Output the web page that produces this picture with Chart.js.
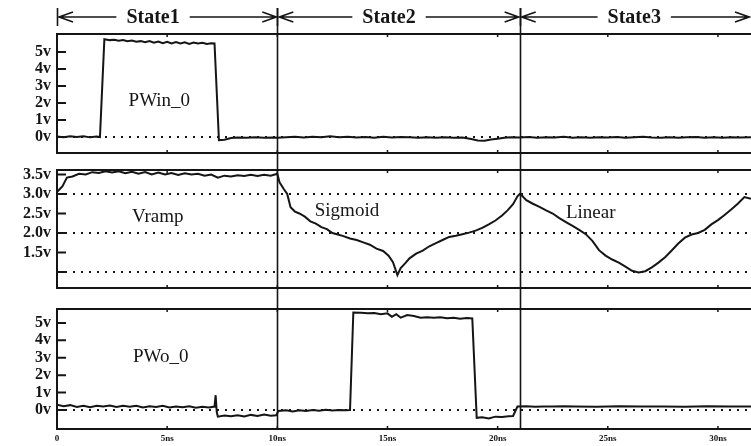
<!DOCTYPE html>
<html><head><meta charset="utf-8">
<script src="https://cdn.jsdelivr.net/npm/chart.js@4.4.1/dist/chart.umd.min.js"></script>
<style>
html,body{margin:0;padding:0;background:#fff;}
#wrap{position:relative;width:751px;height:446px;background:#fff;overflow:hidden;}
canvas{position:absolute;left:0;}
</style></head><body>
<div id="wrap">
<canvas id="c1" width="751" height="162" style="top:0"></canvas>
<canvas id="c2" width="751" height="136" style="top:162px"></canvas>
<canvas id="c3" width="751" height="148" style="top:298px"></canvas>
</div>
<script>
// ---------- data ----------
const xMax = 31.5;
const xTickValues = [0, 5, 10, 15, 20, 25, 30];
const stateNames = ['State1', 'State2', 'State3'];
const stateBounds = [0, 10, 21, 31.5];
const panelNames = ['PWin_0', 'Vramp', 'PWo_0'];
const shapeNames = ['Sigmoid', 'Linear'];

const pwinTicks = [0, 1, 2, 3, 4, 5];
const vrampTicks = [1.0, 1.5, 2.0, 2.5, 3.0, 3.5];
const pwoTicks = [0, 1, 2, 3, 4, 5];
const pwinRef = [0];
const vrampRef = [1.0, 2.0, 3.0];
const pwoRef = [0];

const pwinT = [0,0.3,0.6,0.9,1.2,1.5,1.8,1.95,
  2.15,2.4,2.6,2.8,3.0,3.2,3.4,3.6,3.8,4.0,4.2,4.4,4.6,4.8,5.0,5.2,5.4,5.6,5.8,6.0,6.2,6.4,6.6,6.8,7.0,7.15,
  7.35,7.6,7.9,8.2,8.6,9.0,9.4,9.8,10.0,10.4,10.8,11.2,11.6,12.0,12.4,12.8,13.2,13.6,14.0,14.4,14.8,
  15.2,15.6,16.0,16.4,16.8,17.2,17.6,18.0,18.4,18.8,19.1,19.4,19.7,20.0,20.3,20.6,
  21.0,21.4,21.8,22.2,22.6,23.0,23.4,23.8,24.2,24.6,25.0,25.4,25.8,26.2,26.6,27.0,27.4,27.8,28.2,28.6,
  29.0,29.4,29.8,30.2,30.6,31.0,31.5];
const pwinV = [0.03,-0.02,0.04,0.0,0.05,-0.02,0.03,0.0,
  5.75,5.7,5.72,5.66,5.7,5.63,5.67,5.6,5.64,5.58,5.65,5.55,5.62,5.52,5.6,5.5,5.58,5.5,5.57,5.48,5.56,5.5,5.54,5.47,5.52,5.5,
  -0.18,-0.16,-0.06,-0.03,-0.05,-0.02,-0.04,-0.03,-0.05,-0.02,0.02,-0.03,0.01,-0.02,0.04,-0.01,0.02,-0.03,0.0,-0.04,0.01,
  -0.03,0.0,-0.02,-0.05,-0.01,-0.04,-0.02,-0.05,-0.03,-0.12,-0.2,-0.22,-0.15,-0.1,-0.05,-0.02,
  -0.03,0.0,-0.04,-0.01,-0.03,0.01,-0.04,-0.02,-0.05,-0.01,-0.03,0.0,-0.04,-0.02,0.01,-0.03,-0.05,-0.01,-0.04,-0.02,
  0.0,-0.04,-0.02,-0.05,-0.01,-0.03,-0.02];

const vrampT = [0,0.25,0.45,0.7,1.0,1.3,1.6,1.9,2.2,2.5,2.8,3.1,3.4,3.7,4.0,4.3,4.6,4.9,5.2,5.5,5.8,6.1,6.4,6.7,7.0,7.3,7.6,7.9,8.2,8.5,8.8,9.1,9.4,9.7,10.0,
  10.1,10.3,10.45,10.6,10.8,11.0,11.25,11.5,11.75,12.0,12.25,12.5,12.75,13.0,13.3,13.6,13.9,14.2,14.5,14.8,15.05,15.25,15.45,
  15.6,15.8,16.0,16.3,16.6,16.9,17.2,17.5,17.8,18.1,18.4,18.7,19.0,19.3,19.6,19.9,20.2,20.45,20.7,20.9,21.0,
  21.1,21.3,21.6,21.9,22.2,22.5,22.8,23.1,23.4,23.7,24.0,24.3,24.6,24.9,25.2,25.5,25.8,26.1,26.4,
  26.7,27.0,27.3,27.6,27.9,28.2,28.5,28.8,29.1,29.4,29.7,30.0,30.3,30.6,30.9,31.2,31.5];
const vrampV = [3.05,3.2,3.42,3.45,3.52,3.5,3.56,3.54,3.58,3.55,3.58,3.53,3.57,3.52,3.56,3.5,3.55,3.5,3.54,3.49,3.53,3.5,3.52,3.47,3.5,3.42,3.47,3.45,3.48,3.46,3.49,3.46,3.49,3.47,3.52,
  3.3,3.12,3.0,2.66,2.55,2.5,2.42,2.3,2.24,2.15,2.1,2.0,1.96,1.92,1.86,1.82,1.76,1.7,1.6,1.54,1.42,1.25,0.92,
  1.1,1.22,1.35,1.47,1.55,1.66,1.74,1.82,1.9,1.93,1.97,2.01,2.06,2.13,2.22,2.32,2.45,2.58,2.74,2.94,3.0,
  2.96,2.84,2.75,2.67,2.58,2.5,2.38,2.28,2.18,2.08,1.97,1.8,1.56,1.42,1.32,1.24,1.14,1.03,0.99,
  1.02,1.12,1.24,1.38,1.55,1.73,1.88,1.96,2.0,2.08,2.22,2.33,2.46,2.6,2.75,2.92,2.88];

const pwoT = [0,0.3,0.6,0.9,1.2,1.5,1.8,2.1,2.4,2.7,3.0,3.3,3.6,3.9,4.2,4.5,4.8,5.1,5.4,5.7,6.0,6.3,6.6,6.9,7.15,
  7.2,7.25,7.3,7.6,7.9,8.2,8.5,8.8,9.1,9.4,9.7,9.95,
  10.05,10.4,10.7,11.0,11.3,11.6,11.9,12.2,12.5,12.8,13.1,13.3,
  13.45,13.8,14.1,14.4,14.7,15.0,15.2,15.4,15.6,15.9,16.2,16.5,16.8,17.1,17.4,17.7,18.0,18.3,18.6,18.85,
  19.05,19.3,19.6,19.9,20.2,20.5,20.7,
  20.9,21.3,21.7,22.1,22.5,23.0,23.5,24.5,25.5,26.5,27.5,28.5,29.5,30.5,31.5];
const pwoV = [0.3,0.22,0.28,0.18,0.25,0.16,0.24,0.2,0.26,0.17,0.24,0.19,0.25,0.15,0.22,0.18,0.24,0.14,0.2,0.16,0.21,0.13,0.19,0.15,0.2,
  0.85,-0.1,-0.38,-0.32,-0.36,-0.3,-0.37,-0.28,-0.34,-0.26,-0.33,-0.3,
  -0.05,-0.02,-0.08,-0.01,-0.06,0.0,-0.04,0.01,-0.03,0.0,-0.02,0.0,
  5.6,5.58,5.55,5.57,5.5,5.55,5.35,5.5,5.3,5.45,5.4,5.3,5.32,5.3,5.33,5.27,5.3,5.24,5.28,5.26,
  -0.45,-0.42,-0.48,-0.38,-0.4,-0.36,-0.34,
  0.2,0.21,0.19,0.2,0.2,0.21,0.2,0.19,0.21,0.2,0.2,0.19,0.21,0.2,0.2];

// ---------- drawing ----------
const INK = '#151515';
const SERIF = '"Liberation Serif", "Times New Roman", serif';

function pts(ts, vs) { return ts.map((t, i) => ({ x: t, y: vs[i] })); }

function refLines(levels) {
  return levels.map(v => ({
    data: [{ x: 0, y: v }, { x: xMax, y: v }],
    borderColor: INK, borderWidth: 2, borderDash: [2, 6], borderCapStyle: 'butt',
    pointRadius: 0, tension: 0, fill: false
  }));
}

function decor(cfg) {
  return {
    id: 'decor',
    afterDatasetsDraw(chart) {
      const { ctx, chartArea: a, scales: { x, y } } = chart;
      ctx.save();
      ctx.strokeStyle = INK; ctx.fillStyle = INK;
      // frame
      ctx.lineWidth = 2;
      ctx.beginPath();
      ctx.moveTo(a.right, a.top); ctx.lineTo(a.left, a.top);
      ctx.lineTo(a.left, a.bottom); ctx.lineTo(a.right, a.bottom);
      ctx.stroke();
      // inward y ticks
      ctx.beginPath();
      cfg.yTicks.forEach(v => {
        const py = y.getPixelForValue(v);
        ctx.moveTo(a.left, py); ctx.lineTo(a.left + 9, py);
      });
      ctx.stroke();
      // small x ticks on top/bottom borders
      ctx.lineWidth = 1.5;
      ctx.beginPath();
      xTickValues.forEach(v => {
        if (v === 0) return;
        const px = x.getPixelForValue(v);
        ctx.moveTo(px, a.top); ctx.lineTo(px, a.top + 3);
        ctx.moveTo(px, a.bottom); ctx.lineTo(px, a.bottom - 3);
      });
      ctx.stroke();
      // state separators
      ctx.lineWidth = 1.6;
      ctx.beginPath();
      [stateBounds[1], stateBounds[2]].forEach(v => {
        const px = Math.round(x.getPixelForValue(v)) + 0.5;
        ctx.moveTo(px, cfg.sepTop);
        ctx.lineTo(px, cfg.sepToArea ? a.bottom : chart.height);
      });
      ctx.stroke();
      // annotation labels
      ctx.font = '19px ' + SERIF;
      ctx.textBaseline = 'alphabetic'; ctx.textAlign = 'left';
      cfg.labels.forEach(l => {
        ctx.fillText(l.text, x.getPixelForValue(l.t), y.getPixelForValue(l.v));
      });
      // header
      if (cfg.header) {
        const hy = 17;
        ctx.font = 'bold 20px ' + SERIF;
        ctx.textBaseline = 'middle'; ctx.textAlign = 'center';
        ctx.lineWidth = 1.6;
        const centers = [4.36, 15.07, 26.2];
        ctx.beginPath();
        [stateBounds[0], stateBounds[1], stateBounds[2]].forEach(v => {
          const px = Math.round(x.getPixelForValue(v)) + 0.5;
          ctx.moveTo(px, 8); ctx.lineTo(px, 26);
        });
        ctx.stroke();
        stateNames.forEach((name, i) => {
          const x0 = x.getPixelForValue(stateBounds[i]) + 2;
          const x1 = Math.min(x.getPixelForValue(stateBounds[i + 1]) - 1, 749);
          const cx = x.getPixelForValue(centers[i]);
          const w = ctx.measureText(name).width;
          ctx.fillText(name, cx, hy + 1);
          ctx.beginPath();
          ctx.moveTo(x0, hy); ctx.lineTo(cx - w / 2 - 10, hy);
          ctx.moveTo(cx + w / 2 + 10, hy); ctx.lineTo(x1, hy);
          ctx.moveTo(x0 + 14, hy - 5); ctx.lineTo(x0, hy); ctx.lineTo(x0 + 14, hy + 5);
          ctx.moveTo(x1 - 14, hy - 5); ctx.lineTo(x1, hy); ctx.lineTo(x1 - 14, hy + 5);
          ctx.stroke();
        });
      }
      ctx.restore();
    }
  };
}

function makePanel(id, cfg) {
  const datasets = [{
    data: pts(cfg.t, cfg.v), borderColor: INK, borderWidth: 2,
    pointRadius: 0, tension: 0, fill: false, borderJoinStyle: 'miter'
  }].concat(refLines(cfg.refs));
  return new Chart(document.getElementById(id), {
    type: 'line',
    data: { datasets },
    options: {
      responsive: false, animation: false, events: [],
      layout: { padding: { top: cfg.padTop, bottom: cfg.padBottom, left: 0, right: 0 } },
      plugins: { legend: { display: false }, tooltip: { enabled: false } },
      scales: {
        x: {
          type: 'linear', min: 0, max: xMax, display: cfg.showX,
          grid: { display: false, drawTicks: false }, border: { display: false },
          ticks: {
            font: { family: SERIF, size: 9, weight: 'bold' }, color: INK, padding: 4,
            maxRotation: 0, autoSkip: false,
            callback: v => (v === 0 ? '0' : v + 'ns')
          },
          afterBuildTicks: s => { s.ticks = xTickValues.map(v => ({ value: v })); },
          afterFit: s => { s.height = cfg.showX ? 17 : 0; s.paddingLeft = 0; s.paddingRight = 0; }
        },
        y: {
          type: 'linear', min: cfg.yMin, max: cfg.yMax,
          grid: { display: false, drawTicks: false }, border: { display: false },
          ticks: {
            font: { family: SERIF, size: 16, weight: 'bold' }, color: INK, padding: 6,
            autoSkip: false, callback: cfg.fmt
          },
          afterBuildTicks: s => { s.ticks = cfg.yTicks.map(v => ({ value: v })); },
          afterFit: s => { s.width = 57; s.paddingTop = 0; s.paddingBottom = 0; }
        }
      }
    },
    plugins: [decor(cfg)]
  });
}

makePanel('c1', {
  t: pwinT, v: pwinV, refs: pwinRef, yMin: -0.94, yMax: 6.06, yTicks: pwinTicks,
  fmt: v => v + 'v', padTop: 34, padBottom: 9, showX: false,
  sepTop: 8, sepToArea: false, header: true,
  labels: [{ text: panelNames[0], t: 3.25, v: 1.85 }]
});
makePanel('c2', {
  t: vrampT, v: vrampV, refs: vrampRef, yMin: 0.59, yMax: 3.615, yTicks: vrampTicks,
  fmt: v => (v === 1 ? '' : v.toFixed(1) + 'v'), padTop: 8, padBottom: 10, showX: false,
  sepTop: 0, sepToArea: false, header: false,
  labels: [{ text: panelNames[1], t: 3.4, v: 2.28 }, { text: shapeNames[0], t: 11.7, v: 2.44 }, { text: shapeNames[1], t: 23.1, v: 2.38 }]
});
makePanel('c3', {
  t: pwoT, v: pwoV, refs: pwoRef, yMin: -1.09, yMax: 5.8, yTicks: pwoTicks,
  fmt: v => v + 'v', padTop: 11, padBottom: 0, showX: true,
  sepTop: 0, sepToArea: true, header: false,
  labels: [{ text: panelNames[2], t: 3.45, v: 2.76 }]
});
</script>
</body></html>
